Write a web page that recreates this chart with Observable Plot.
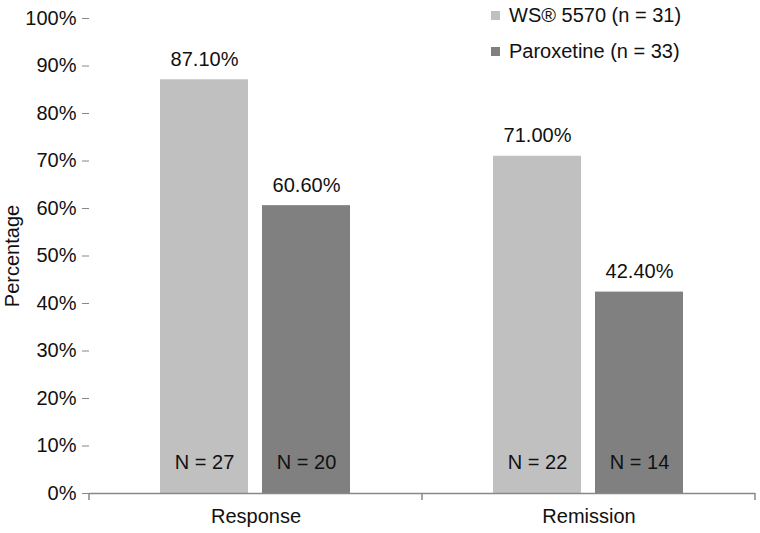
<!DOCTYPE html>
<html>
<head>
<meta charset="utf-8">
<script src="https://cdn.jsdelivr.net/npm/d3@7"></script>
<script src="https://cdn.jsdelivr.net/npm/@observablehq/plot@0.6"></script>
<style>
  html, body { margin: 0; padding: 0; background: #fff; }
  #wrap { position: relative; width: 760px; height: 533px; font-family: "Liberation Sans", Arial, sans-serif; }
  #legend { position: absolute; left: 491px; top: -3px; font-size: 20px; color: #111; }
  .item { display: flex; align-items: center; height: 36px; }
  .sw { width: 9px; height: 9px; margin-right: 9px; }
</style>
</head>
<body>
<div id="wrap"><div id="legend"></div></div>
<script>
const groups = ["Response", "Remission"];
const series = ["WS® 5570 (n = 31)", "Paroxetine (n = 33)"];
const responseValues = [87.1, 60.6];
const remissionValues = [71.0, 42.4];
const responseLabels = ["87.10%", "60.60%"];
const remissionLabels = ["71.00%", "42.40%"];
const responseN = [27, 20];
const remissionN = [22, 14];
const yTicks = [0, 10, 20, 30, 40, 50, 60, 70, 80, 90, 100];
const colors = ["#c0c0c0", "#808080"];

const data = [];
series.forEach((s, i) => data.push({group: groups[0], series: s, value: responseValues[i], label: responseLabels[i], n: responseN[i]}));
series.forEach((s, i) => data.push({group: groups[1], series: s, value: remissionValues[i], label: remissionLabels[i], n: remissionN[i]}));

const plot = Plot.plot({
  width: 760,
  height: 533,
  marginLeft: 89,
  marginRight: 5,
  marginTop: 18,
  marginBottom: 40,
  style: {fontFamily: "Liberation Sans, Arial, sans-serif", fontSize: "20px", color: "#111", background: "#fff"},
  fx: {domain: groups, padding: 0, label: null},
  x: {domain: series, paddingInner: 0.137, paddingOuter: 0.70, axis: null},
  y: {domain: [0, 100], ticks: yTicks},
  color: {domain: series, range: colors},
  marks: [
    Plot.barY(data, {fx: "group", x: "series", y: "value", fill: "series"}),
    Plot.text(data, {fx: "group", x: "series", y: "value", text: "label", lineAnchor: "bottom", dy: -14, fill: "#111"}),
    Plot.text(data, {fx: "group", x: "series", y: 0, text: d => "N = " + d.n, lineAnchor: "middle", dy: -31, fill: "#111"}),
    Plot.ruleY([0], {stroke: "#888", strokeWidth: 1.5}),
    Plot.axisY({ticks: yTicks, tickFormat: d => d + "%", tickSize: 7, tickPadding: 6, stroke: "#888", line: true,
      label: "Percentage", labelAnchor: "center", labelArrow: "none", labelOffset: 85, fill: "#111"}),
    Plot.axisFx({anchor: "bottom", tickSize: 0, tickPadding: 15, label: null, fill: "#111"})
  ]
});

document.getElementById("wrap").prepend(plot);

// boundary ticks on the x axis at the category band edges
const fx = plot.scale("fx");
const y = plot.scale("y");
const edges = fx.domain.map(d => fx.apply(d));
edges.push(fx.apply(fx.domain[fx.domain.length - 1]) + fx.bandwidth);
const y0 = y.apply(0);
d3.select(plot).append("g")
  .selectAll("line").data(edges).join("line")
  .attr("x1", d => d).attr("x2", d => d)
  .attr("y1", y0).attr("y2", y0 + 7)
  .attr("stroke", "#888").attr("stroke-width", 1.5);

// legend
const legend = d3.select("#legend");
series.forEach((s, i) => {
  const item = legend.append("div").attr("class", "item");
  item.append("div").attr("class", "sw").style("background", plot.scale("color").apply(s));
  item.append("span").text(s);
});
</script>
</body>
</html>
